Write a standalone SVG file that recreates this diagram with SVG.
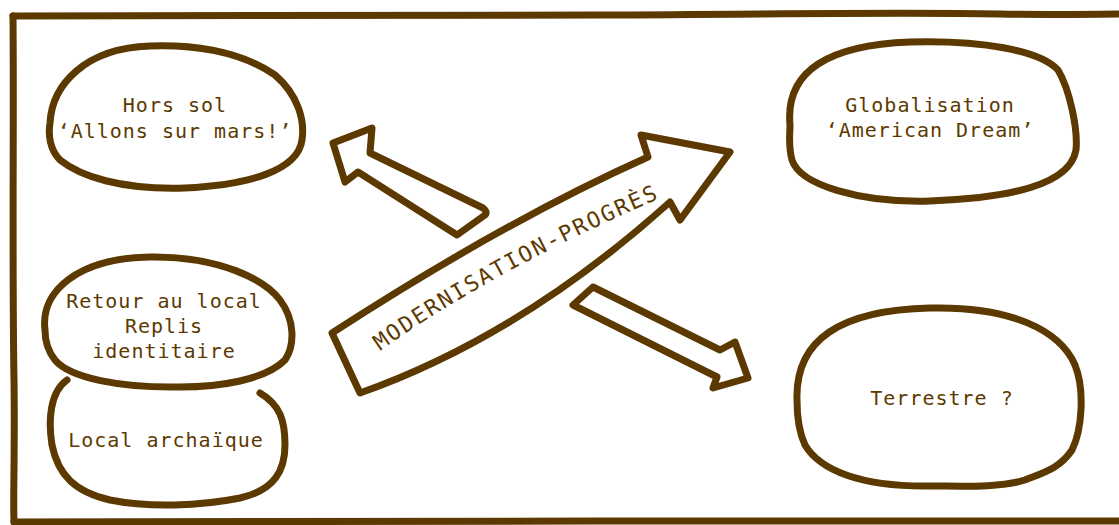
<svg xmlns="http://www.w3.org/2000/svg" width="1119" height="525" viewBox="0 0 1119 525">
<defs>
<style>
.ink{fill:none;stroke:#5c3900;stroke-width:7;stroke-linecap:round;stroke-linejoin:round}
.blk{fill:#ffffff;stroke:#5c3900;stroke-width:7;stroke-linecap:round;stroke-linejoin:round}
.lbl{font-family:"DejaVu Sans Mono","Liberation Mono",monospace;font-size:20px;fill:#5c3900;letter-spacing:1px;text-anchor:middle}
.arr{font-family:"DejaVu Sans Mono","Liberation Mono",monospace;font-size:22px;fill:#5c3900;letter-spacing:2px}
</style>
<path id="textcurve" d="M380,351 Q500,266 670,194"/>
</defs>
<rect x="0" y="0" width="1119" height="525" fill="#ffffff"/>
<g id="frame">
<path class="ink" d="M13,16 C200,14 400,16 600,15 C800,14 900,12 1000,14 C1050,15 1100,14 1125,14"/>
<path class="ink" d="M13,16 C14,120 12,260 14,380 C15,450 13,500 14,522"/>
<path class="ink" d="M14,522 C200,521 400,523 600,521 C800,520 1000,521 1125,521"/>
<path class="ink" d="M1123,60 L1123,521"/>
</g>
<g id="connectors">
<g id="arrow-hors-sol">
<path class="blk" d="M333,143 L372,128 L370,153 L483,208 Q488,212 485,215 L457,235 L358,172 L345,182 Z"/>
</g>
<g id="arrow-terrestre">
<path class="blk" d="M593,287 L573,305 L717,377 L713,388 L748,378 L735,342 L720,350 Z"/>
</g>
<g id="arrow-modernisation">
<path class="blk" d="M332,333 L360,393 Q521,336 670,202 L680,220 L730,152 L641,135 L648,157 Q505,221 332,333 Z"/>
<text class="arr"><textPath href="#textcurve">MODERNISATION-PROGRÈS</textPath></text>
</g>
</g>
<g id="node-hors-sol">
<path class="ink" d="M50,123 C52,85 85,48 150,46 C210,44 250,58 275,75 C298,95 305,120 302,140 C298,170 250,185 185,188 C120,190 80,176 60,160 C50,150 48,135 50,123 Z"/>
<text class="lbl" x="175" y="112">Hors sol</text>
<text class="lbl" x="175" y="138">‘Allons sur mars!’</text>
</g>
<g id="node-globalisation">
<path class="ink" d="M790,125 C785,70 830,45 910,42 C980,40 1040,50 1058,70 C1070,90 1078,130 1076,150 C1070,185 1010,198 930,201 C860,203 800,185 792,160 C788,145 790,135 790,125 Z"/>
<text class="lbl" x="930" y="112">Globalisation</text>
<text class="lbl" x="930" y="137">‘American Dream’</text>
</g>
<g id="node-retour-local">
<path class="ink" d="M45,330 C40,290 80,258 150,257 C220,256 265,280 280,300 C295,320 295,345 285,360 C265,380 220,387 180,387 C120,388 70,378 55,360 C47,350 45,340 45,330 Z"/>
<text class="lbl" x="164" y="308">Retour au local</text>
<text class="lbl" x="164" y="333">Replis</text>
<text class="lbl" x="164" y="358">identitaire</text>
</g>
<g id="node-local-archaique">
<path class="ink" d="M67,380 C50,392 48,420 52,445 C58,475 75,492 110,500 C150,508 200,506 240,498 C275,490 285,470 285,445 C285,420 280,405 260,393"/>
<text class="lbl" x="166" y="447">Local archaïque</text>
</g>
<g id="node-terrestre">
<path class="ink" d="M797,400 C795,340 840,310 930,308 C1010,306 1060,330 1075,365 C1085,390 1082,430 1072,450 C1060,468 1045,472 1025,480 C1000,488 960,486 930,486 C860,487 820,470 805,445 C798,430 797,415 797,400 Z"/>
<text class="lbl" x="942" y="405">Terrestre ?</text>
</g>
</svg>
